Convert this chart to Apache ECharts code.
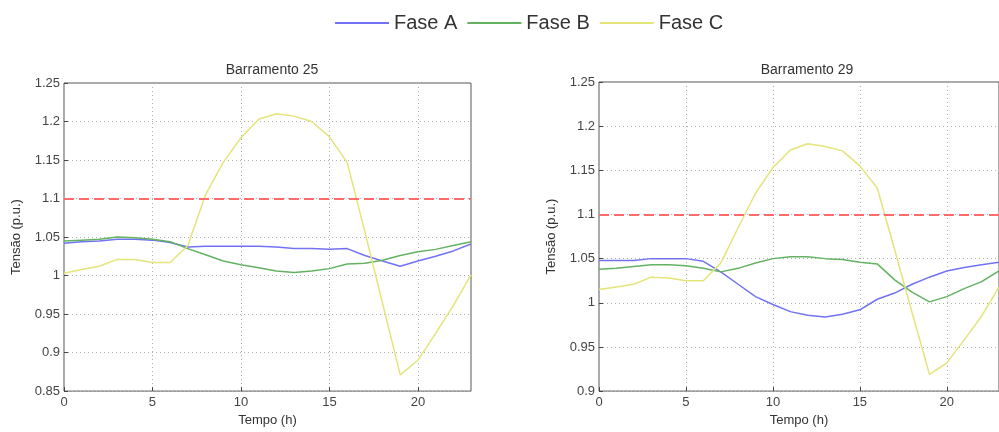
<!DOCTYPE html>
<html>
<head>
<meta charset="utf-8">
<script src="https://cdn.jsdelivr.net/npm/echarts@6/dist/echarts.min.js"></script>
<style>
  html, body { margin: 0; padding: 0; background: #fff; }
  #chart { width: 999px; height: 432px; }
</style>
</head>
<body>
<div id="chart"></div>
<script>
// horas do dia
var horas = [0, 1, 2, 3, 4, 5, 6, 7, 8, 9, 10, 11, 12, 13, 14, 15, 16, 17, 18, 19, 20, 21, 22, 23];
var limite = 1.1;

// Barramento 25
var b25FaseA = [1.042, 1.044, 1.045, 1.047, 1.047, 1.046, 1.043, 1.037, 1.038, 1.038, 1.038, 1.038, 1.037, 1.035, 1.035, 1.034, 1.035, 1.026, 1.019, 1.012, 1.019, 1.025, 1.032, 1.041];
var b25FaseB = [1.045, 1.046, 1.047, 1.050, 1.049, 1.047, 1.044, 1.035, 1.027, 1.019, 1.014, 1.010, 1.006, 1.004, 1.006, 1.009, 1.015, 1.016, 1.020, 1.026, 1.031, 1.034, 1.039, 1.044];
var b25FaseC = [1.003, 1.008, 1.012, 1.021, 1.021, 1.017, 1.017, 1.039, 1.105, 1.147, 1.179, 1.203, 1.210, 1.207, 1.200, 1.180, 1.147, 1.057, 0.964, 0.871, 0.890, 0.925, 0.961, 1.001];

// Barramento 29
var b29FaseA = [1.048, 1.048, 1.048, 1.050, 1.050, 1.050, 1.047, 1.035, 1.021, 1.007, 0.998, 0.990, 0.986, 0.984, 0.987, 0.992, 1.004, 1.011, 1.021, 1.029, 1.036, 1.040, 1.043, 1.046];
var b29FaseB = [1.038, 1.039, 1.041, 1.043, 1.043, 1.042, 1.039, 1.035, 1.039, 1.045, 1.050, 1.052, 1.052, 1.050, 1.049, 1.046, 1.044, 1.026, 1.012, 1.001, 1.007, 1.016, 1.024, 1.036];
var b29FaseC = [1.015, 1.018, 1.021, 1.029, 1.028, 1.025, 1.025, 1.045, 1.085, 1.124, 1.153, 1.173, 1.180, 1.177, 1.172, 1.155, 1.130, 1.060, 0.989, 0.919, 0.932, 0.958, 0.985, 1.018];

var corA = '#7272f2';
var corB = '#62b262';
var corC = '#e4e47a';
var fonte = 'Liberation Sans, Arial, sans-serif';

function pares(valores) {
  return horas.map(function (h, i) { return [h, valores[i]]; });
}

function eixoX(idx) {
  return {
    gridIndex: idx,
    type: 'value',
    min: 0,
    max: 23,
    interval: 5,
    name: 'Tempo (h)',
    nameLocation: 'middle',
    nameGap: 21,
    nameTextStyle: { color: '#333', fontSize: 13, fontFamily: fonte },
    axisLine: { show: false },
    axisTick: { show: true, inside: true, length: 4, lineStyle: { color: '#444' } },
    axisLabel: { color: '#444', fontSize: 13, fontFamily: fonte, margin: 5, showMaxLabel: false },
    splitLine: { show: true, lineStyle: { color: '#b0b0b0', type: [1, 3] } }
  };
}

function eixoY(idx, min) {
  return {
    gridIndex: idx,
    type: 'value',
    min: min,
    max: 1.25,
    interval: 0.05,
    name: 'Tensão (p.u.)',
    nameLocation: 'middle',
    nameGap: 41,
    nameTextStyle: { color: '#333', fontSize: 13, fontFamily: fonte },
    axisLine: { show: false },
    axisTick: { show: true, inside: true, length: 4, lineStyle: { color: '#444' } },
    axisLabel: {
      color: '#444', fontSize: 13, fontFamily: fonte, margin: 4,
      formatter: function (v) { return String(+v.toFixed(2)); }
    },
    splitLine: { show: true, lineStyle: { color: '#b0b0b0', type: [1, 3] } }
  };
}

function serie(nome, cor, valores, idx, comLimite) {
  var s = {
    name: nome,
    type: 'line',
    xAxisIndex: idx,
    yAxisIndex: idx,
    data: pares(valores),
    showSymbol: false,
    symbol: 'none',
    lineStyle: { color: cor, width: 1.5 },
    itemStyle: { color: cor },
    animation: false
  };
  if (comLimite) {
    s.markLine = {
      silent: true,
      symbol: 'none',
      label: { show: false },
      lineStyle: { color: '#ff6b6b', type: [10, 5], width: 2 },
      data: [{ yAxis: limite }]
    };
  }
  return s;
}

var myChart = echarts.init(document.getElementById('chart'));
myChart.setOption({
  backgroundColor: '#fff',
  animation: false,
  legend: {
    left: 330,
    top: 8,
    icon: 'rect',
    itemWidth: 54,
    itemHeight: 2,
    itemGap: 10,
    textStyle: { color: '#333', fontSize: 20, fontFamily: fonte },
    data: ['Fase A', 'Fase B', 'Fase C']
  },
  title: [
    { text: 'Barramento 25', left: 267, top: 58, textAlign: 'center',
      textStyle: { color: '#333', fontSize: 14, fontWeight: 'normal', fontFamily: fonte } },
    { text: 'Barramento 29', left: 802, top: 58, textAlign: 'center',
      textStyle: { color: '#333', fontSize: 14, fontWeight: 'normal', fontFamily: fonte } }
  ],
  grid: [
    { left: 64, right: 528, top: 83, bottom: 39, show: true, borderColor: '#555', borderWidth: 1, backgroundColor: '#fff' },
    { left: 599, right: -7, top: 82, bottom: 40, show: true, borderColor: '#555', borderWidth: 1, backgroundColor: '#fff' }
  ],
  xAxis: [eixoX(0), eixoX(1)],
  yAxis: [eixoY(0, 0.85), eixoY(1, 0.9)],
  series: [
    serie('Fase A', corA, b25FaseA, 0, true),
    serie('Fase B', corB, b25FaseB, 0, false),
    serie('Fase C', corC, b25FaseC, 0, false),
    serie('Fase A', corA, b29FaseA, 1, true),
    serie('Fase B', corB, b29FaseB, 1, false),
    serie('Fase C', corC, b29FaseC, 1, false)
  ]
});
window.addEventListener('resize', function () {
  myChart.resize();
});
</script>
</body>
</html>
